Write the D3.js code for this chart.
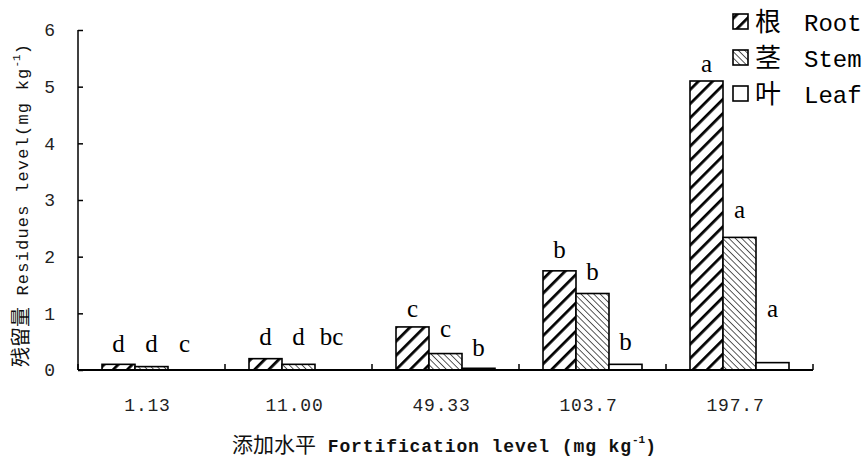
<!DOCTYPE html>
<html>
<head>
<meta charset="utf-8">
<script src="https://cdn.jsdelivr.net/npm/d3@7/dist/d3.min.js"></script>
<style>
  html, body { margin: 0; padding: 0; background: #fff; }
  svg { display: block; }
</style>
</head>
<body>
<svg id="chart" width="867" height="461"></svg>
<script>
// ---- data ----
const categories = ["1.13", "11.00", "49.33", "103.7", "197.7"];
const seriesNames = ["Root", "Stem", "Leaf"];
const seriesCN = ["根", "茎", "叶"];
const rootValues = [0.10, 0.20, 0.76, 1.75, 5.10];
const stemValues = [0.06, 0.10, 0.29, 1.35, 2.34];
const leafValues = [0.00, 0.00, 0.03, 0.10, 0.13];
const rootLetters = ["d", "d", "c", "b", "a"];
const stemLetters = ["d", "d", "c", "b", "a"];
const leafLetters = ["c", "bc", "b", "b", "a"];
// letter anchor heights (data units, baseline of the significance letter)
const rootLetterAt = [0.32, 0.44, 0.93, 1.97, 5.26];
const stemLetterAt = [0.32, 0.44, 0.58, 1.59, 2.68];
const leafLetterAt = [0.32, 0.44, 0.25, 0.35, 0.93];
const yTicks = [0, 1, 2, 3, 4, 5, 6];

const values = [rootValues, stemValues, leafValues];
const letters = [rootLetters, stemLetters, leafLetters];
const letterAt = [rootLetterAt, stemLetterAt, leafLetterAt];

// ---- layout ----
const svg = d3.select("#chart");
const mLeft = 78, mRight = 813, mTop = 30, mBottom = 370;
const MONO = "'Liberation Mono', 'DejaVu Sans Mono', monospace";
const CJK = "'Noto Sans CJK SC', sans-serif";

const defs = svg.append("defs");
const pRoot = defs.append("pattern").attr("id", "pRoot")
  .attr("patternUnits", "userSpaceOnUse").attr("width", 10).attr("height", 10)
  .attr("patternTransform", "rotate(45)");
pRoot.append("rect").attr("width", 10).attr("height", 10).attr("fill", "#fff");
pRoot.append("line").attr("x1", 0).attr("y1", 0).attr("x2", 0).attr("y2", 10)
  .attr("stroke", "#000").attr("stroke-width", 5.5);

const pStem = defs.append("pattern").attr("id", "pStem")
  .attr("patternUnits", "userSpaceOnUse").attr("width", 4.5).attr("height", 4.5)
  .attr("patternTransform", "rotate(-45)");
pStem.append("rect").attr("width", 4.5).attr("height", 4.5).attr("fill", "#fff");
pStem.append("line").attr("x1", 0).attr("y1", 0).attr("x2", 0).attr("y2", 4.5)
  .attr("stroke", "#000").attr("stroke-width", 1.3);

const fills = ["url(#pRoot)", "url(#pStem)", "#fff"];

const x0 = d3.scaleBand().domain(categories).range([mLeft, mRight]).padding(0);
const x1 = d3.scaleBand().domain(seriesNames).range([24, x0.bandwidth() - 24]).padding(0);
const y = d3.scaleLinear().domain([0, 6]).range([mBottom, mTop]);

// bars
seriesNames.forEach((s, si) => {
  svg.append("g").selectAll("rect")
    .data(categories.map((c, i) => ({ c, v: values[si][i] })))
    .join("rect")
    .attr("x", d => x0(d.c) + x1(s))
    .attr("y", d => y(d.v))
    .attr("width", x1.bandwidth())
    .attr("height", d => mBottom - y(d.v))
    .attr("fill", fills[si])
    .attr("stroke", "#000")
    .attr("stroke-width", 1.6);
});

// letters
seriesNames.forEach((s, si) => {
  svg.append("g").selectAll("text")
    .data(categories.map((c, i) => ({ c, t: letters[si][i], a: letterAt[si][i] })))
    .join("text")
    .attr("x", d => x0(d.c) + x1(s) + x1.bandwidth() / 2)
    .attr("y", d => y(d.a))
    .attr("text-anchor", "middle")
    .attr("font-family", "'Liberation Serif', serif")
    .attr("font-size", 25)
    .attr("fill", "#000")
    .text(d => d.t);
});

// y axis
const yAxis = d3.axisRight(y).tickValues(yTicks).tickSize(5).tickFormat("");
const gy = svg.append("g").attr("transform", `translate(${mLeft},0)`).call(yAxis);
gy.select(".domain").attr("stroke", "#000").attr("stroke-width", 1.5).attr("d", `M0,${mTop}V${mBottom}`);
gy.selectAll(".tick line").attr("stroke", "#000").attr("stroke-width", 1.5);
svg.append("g").selectAll("text").data(yTicks).join("text")
  .attr("x", 55).attr("y", d => y(d)).attr("dy", "0.36em")
  .attr("text-anchor", "end")
  .attr("font-family", MONO).attr("font-size", 18).attr("fill", "#222")
  .text(d => d);

// x axis
svg.append("line").attr("x1", mLeft).attr("x2", mRight).attr("y1", mBottom).attr("y2", mBottom)
  .attr("stroke", "#000").attr("stroke-width", 1.8);
const bounds = categories.map(c => x0(c)).concat([mRight]);
svg.append("g").selectAll("line").data(bounds).join("line")
  .attr("x1", d => d).attr("x2", d => d).attr("y1", mBottom).attr("y2", mBottom - 6)
  .attr("stroke", "#000").attr("stroke-width", 1.5);
svg.append("g").selectAll("text").data(categories).join("text")
  .attr("x", d => x0(d) + x0.bandwidth() / 2 - 4)
  .attr("y", 405).attr("dy", "0.36em")
  .attr("text-anchor", "middle")
  .attr("font-family", MONO).attr("font-size", 18).attr("letter-spacing", 0.8).attr("fill", "#222")
  .text(d => d);

// x title
const xt = svg.append("text").attr("x", 232).attr("y", 452).attr("fill", "#111");
xt.append("tspan").attr("font-family", CJK).attr("font-size", 21).text("添加水平");
xt.append("tspan").attr("font-family", MONO).attr("font-size", 18).attr("letter-spacing", 0.9).attr("font-weight", "bold").text(" Fortification level (mg kg");
xt.append("tspan").attr("font-family", MONO).attr("font-size", 11).attr("dy", -9).attr("font-weight", "bold").text("-1");
xt.append("tspan").attr("font-family", MONO).attr("font-size", 18).attr("dy", 9).attr("font-weight", "bold").text(")");

// y title
const yt = svg.append("text").attr("transform", "translate(28,367) rotate(-90)").attr("fill", "#111");
yt.append("tspan").attr("font-family", CJK).attr("font-size", 20).text("残留量");
yt.append("tspan").attr("font-family", MONO).attr("font-size", 17).attr("letter-spacing", 1.2).text(" Residues level(mg kg");
yt.append("tspan").attr("font-family", MONO).attr("font-size", 11).attr("dy", -8).text("-1");
yt.append("tspan").attr("font-family", MONO).attr("font-size", 17).attr("dy", 8).text(")");

// legend
const legRows = [22, 58, 94];
const lg = svg.append("g");
seriesNames.forEach((s, i) => {
  lg.append("rect").attr("x", 733).attr("y", legRows[i] - 8).attr("width", 15).attr("height", 15)
    .attr("fill", fills[i]).attr("stroke", "#000").attr("stroke-width", 1.6);
  lg.append("text").attr("x", 755).attr("y", legRows[i]).attr("dy", "0.36em")
    .attr("font-family", CJK).attr("font-size", 26).attr("fill", "#000").text(seriesCN[i]);
  lg.append("text").attr("x", 804).attr("y", legRows[i]).attr("dy", "0.36em")
    .attr("font-family", MONO).attr("font-size", 24).attr("fill", "#000").text(s);
});
</script>
</body>
</html>
